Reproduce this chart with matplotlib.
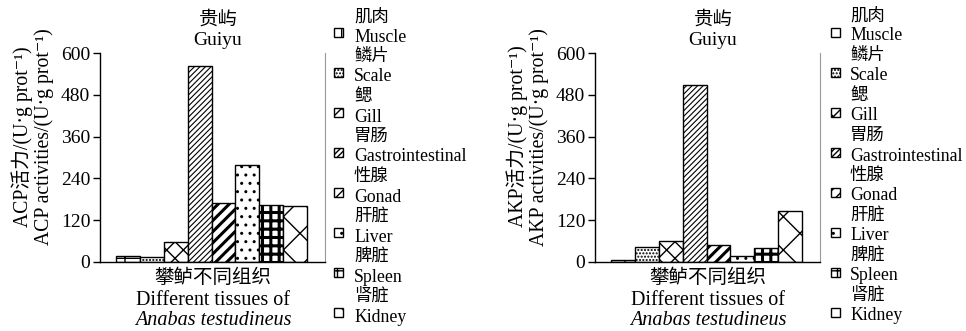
#!/usr/bin/env python

import matplotlib
matplotlib.use("Agg")
import matplotlib.pyplot as plt
from matplotlib.patches import Rectangle

plt.rcParams['font.family'] = ['Liberation Serif', 'Noto Sans CJK SC', 'DejaVu Serif']

## data
tissues_cn = ['肌肉', '鳞片', '鳃', '胃肠', '性腺', '肝脏', '脾脏', '肾脏']
tissues_en = ['Muscle', 'Scale', 'Gill', 'Gastrointestinal', 'Gonad', 'Liver', 'Spleen', 'Kidney']
acp = [16, 15, 56, 564, 170, 278, 163, 160]
akp = [7, 43, 60, 507, 50, 16, 40, 147]
yticks = [0, 120, 240, 360, 480, 600]

## styles
hatches = ['+', '.....', 'xx', '//////', '///', '..', '++', 'x']
hatch_lw = [1, 1, 1, 0.8, 2.2, 1, 2.2, 1]

W, H = 966, 331
def fx(px):
    return px / W
def fy(py):
    return 1 - py / H

fig = plt.figure(figsize=(W / 100, H / 100), dpi=100)


def draw_panel(left, values, name):
    ax = fig.add_axes([fx(left), fy(262), 225 / W, 209 / H])
    for i, v in enumerate(values):
        ax.bar(i, v, width=1, align='edge', facecolor='white', edgecolor='black',
               linewidth=1, hatch=hatches[i], hatch_linewidth=hatch_lw[i])
    ax.set_xlim(-0.67, 8.75)
    ax.set_ylim(0, 600)
    ax.set_yticks(yticks)
    ax.set_xticks([])
    ax.tick_params(axis='y', direction='out', length=5, width=1, labelsize=14, pad=2)
    ax.spines['top'].set_visible(False)
    ax.spines['right'].set_color('#999999')
    ax.spines['right'].set_linewidth(0.8)
    ax.spines['left'].set_linewidth(1)
    ax.spines['bottom'].set_linewidth(1)

    # two-line y label (Chinese / English)
    ax.text(-0.30, 0.6, name + '活力/(U·g prot\u207b\u00b9)\n' + name + ' activities/(U·g prot\u207b\u00b9)',
            transform=ax.transAxes, rotation=90, ha='center', va='center',
            multialignment='center', fontsize=14.2, linespacing=1.1)

    ax.text(0.524, 1.158, '贵屿', transform=ax.transAxes, ha='center', va='center', fontsize=14)
    ax.text(0.524, 1.062, 'Guiyu', transform=ax.transAxes, ha='center', va='center', fontsize=14)

    ax.text(0.502, -0.077, '攀鲈不同组织', transform=ax.transAxes, ha='center', va='center', fontsize=14)
    ax.text(0.502, -0.182, 'Different tissues of', transform=ax.transAxes, ha='center', va='center', fontsize=14.5)
    ax.text(0.502, -0.278, 'Anabas testudineus', transform=ax.transAxes, ha='center', va='center',
            fontsize=14.5, style='italic')
    return ax


def draw_legend(patch_x, text_x, y0, patch_dy):
    for i in range(len(tissues_cn)):
        yc = y0 + 40 * i
        fig.text(fx(text_x), fy(yc), tissues_cn[i], ha='left', va='center', fontsize=12.5)
        fig.text(fx(text_x), fy(yc + 20), tissues_en[i], ha='left', va='center', fontsize=12.8)
        rect = Rectangle((fx(patch_x), fy(yc + patch_dy + 4.5)), 9 / W, 9 / H,
                         transform=fig.transFigure, facecolor='white', edgecolor='black',
                         linewidth=1, hatch=hatches[i])
        fig.add_artist(rect)


draw_panel(100, acp, 'ACP')
draw_panel(595, akp, 'AKP')
draw_legend(334, 354, 17, 15)
draw_legend(831, 850, 16, 16)

fig.savefig('out.png', dpi=100)
